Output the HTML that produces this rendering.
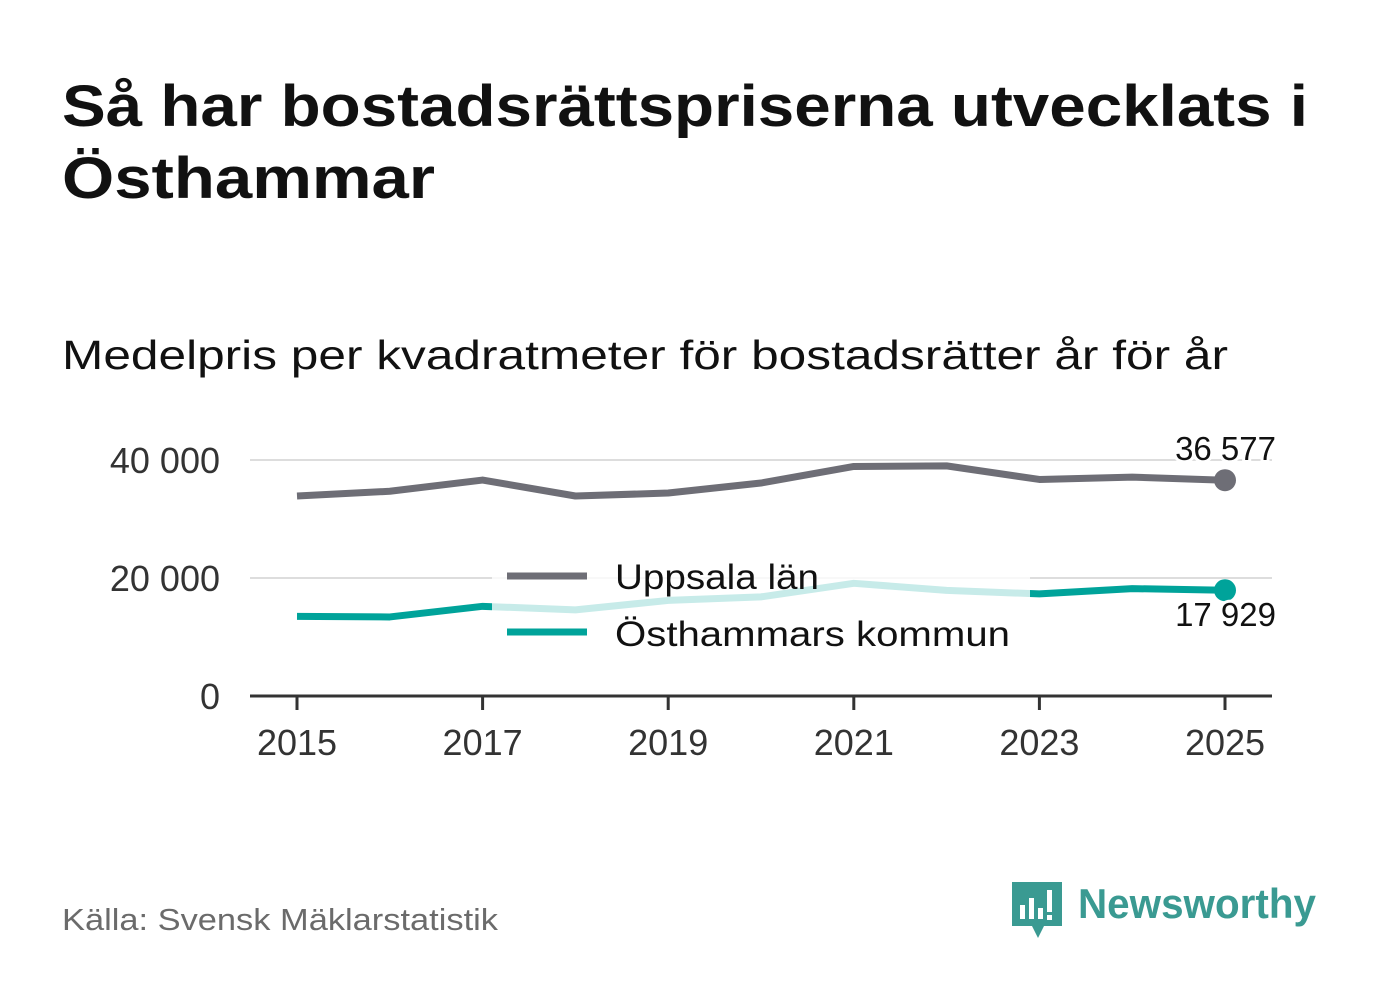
<!DOCTYPE html>
<html><head><meta charset="utf-8"><style>
body{margin:0;background:#fff;width:1382px;height:999px;overflow:hidden;font-family:"Liberation Sans","DejaVu Sans",sans-serif}
</style></head><body>
<svg width="1382" height="999" xmlns="http://www.w3.org/2000/svg">
<text x="62" y="126" font-size="58" font-weight="bold" fill="#111" font-family="Liberation Sans, sans-serif" textLength="1246" lengthAdjust="spacingAndGlyphs">Så har bostadsrättspriserna utvecklats i</text>
<text x="62" y="198" font-size="58" font-weight="bold" fill="#111" font-family="Liberation Sans, sans-serif" textLength="373" lengthAdjust="spacingAndGlyphs">Östhammar</text>
<text x="62" y="369" font-size="41" fill="#111" font-family="Liberation Sans, sans-serif" textLength="1166" lengthAdjust="spacingAndGlyphs">Medelpris per kvadratmeter för bostadsrätter år för år</text>
<g id="grid"></g>
<g id="lines"></g>
<rect x="492" y="548" width="538" height="112" fill="#fff" opacity="0.78"/>
<g>
<line x1="507" y1="576" x2="587" y2="576" stroke="#6e6e76" stroke-width="7"/>
<text x="615" y="589" font-size="35" fill="#111" font-family="Liberation Sans, sans-serif" textLength="204" lengthAdjust="spacingAndGlyphs">Uppsala län</text>
<line x1="507" y1="632" x2="587" y2="632" stroke="#00a39a" stroke-width="7"/>
<text x="615" y="646" font-size="35" fill="#111" font-family="Liberation Sans, sans-serif" textLength="395" lengthAdjust="spacingAndGlyphs">Östhammars kommun</text>
</g>
<g id="fg"></g>
<text x="62" y="930" font-size="31" fill="#6b6b6b" font-family="Liberation Sans, sans-serif" textLength="436" lengthAdjust="spacingAndGlyphs">Källa: Svensk Mäklarstatistik</text>
<g>
<path d="M1012 882 h50 v44 h-18 l-6 12 l-6-12 h-20 z" fill="#3a9a92"/>
<rect x="1020" y="905" width="5" height="14" fill="#fff"/><rect x="1029" y="898" width="5" height="21" fill="#fff"/><rect x="1038" y="908" width="5" height="11" fill="#fff"/><rect x="1047" y="890" width="5" height="22" fill="#fff"/><rect x="1047" y="915" width="5" height="5" fill="#fff"/>
<text x="1078" y="918" font-size="42" font-weight="bold" fill="#3a9a92" font-family="Liberation Sans, sans-serif" textLength="238" lengthAdjust="spacingAndGlyphs">Newsworthy</text>
</g>
</svg>
<script>
const years=[2015,2016,2017,2018,2019,2020,2021,2022,2023,2024,2025];
const uppsala=[33900,34700,36600,33900,34400,36100,38900,39000,36700,37100,36577];
const osthammar=[13500,13400,15200,14600,16200,16800,19100,17900,17300,18200,17929];
const yTicks=[0,20000,40000];
const xTicks=[2015,2017,2019,2021,2023,2025];
const NS="http://www.w3.org/2000/svg";
const x=v=>297+(v-2015)*92.8;
const y=v=>696-v/20000*118;
function mk(p,t,a){const e=document.createElementNS(NS,t);for(const k in a)e.setAttribute(k,a[k]);document.getElementById(p).appendChild(e);return e;}
yTicks.forEach(t=>{
 if(t>0){const g=mk('grid','line',{x1:250,x2:1272,y1:y(t),y2:y(t),stroke:'#ddd','stroke-width':2});
 
 }
 const l=mk('fg','text',{x:220,y:y(t)+13,'font-size':36,'text-anchor':'end',fill:'#333','font-family':'Liberation Sans, sans-serif'});
 l.textContent=t.toLocaleString('sv-SE').replace(/\s/g,' ');
 
 
});
const ax=mk('fg','line',{x1:250,x2:1272,y1:696,y2:696,stroke:'#333','stroke-width':3});


xTicks.forEach(t=>{
 const tk=mk('fg','line',{x1:x(t),x2:x(t),y1:696,y2:710,stroke:'#333','stroke-width':3});
 
 
 const l=mk('fg','text',{x:x(t),y:755,'font-size':36,'text-anchor':'middle',fill:'#333','font-family':'Liberation Sans, sans-serif'});
 l.textContent=t;
 
 
});
function series(vals,col,name){
 const p=mk('lines','polyline',{points:vals.map((v,i)=>x(years[i])+','+y(v)).join(' '),fill:'none',stroke:col,'stroke-width':7,'stroke-linejoin':'round'});
 
 
 const n=vals.length-1;
 const c=mk('fg','circle',{cx:x(years[n]),cy:y(vals[n]),r:11,fill:col});
 
 
}
series(uppsala,'#6e6e76','uppsala');
series(osthammar,'#00a39a','osthammar');
const f=v=>v.toLocaleString('sv-SE').replace(/\s/g,' ');
const n=years.length-1;
const a=mk('fg','text',{x:1276,y:y(uppsala[n])-20,'font-size':33,'text-anchor':'end',fill:'#111',stroke:'#fff','stroke-width':6,'paint-order':'stroke','font-family':'Liberation Sans, sans-serif'});
a.textContent=f(uppsala[n]);


const b=mk('fg','text',{x:1276,y:y(osthammar[n])+36,'font-size':33,'text-anchor':'end',fill:'#111',stroke:'#fff','stroke-width':6,'paint-order':'stroke','font-family':'Liberation Sans, sans-serif'});
b.textContent=f(osthammar[n]);


</script>
</body></html>
